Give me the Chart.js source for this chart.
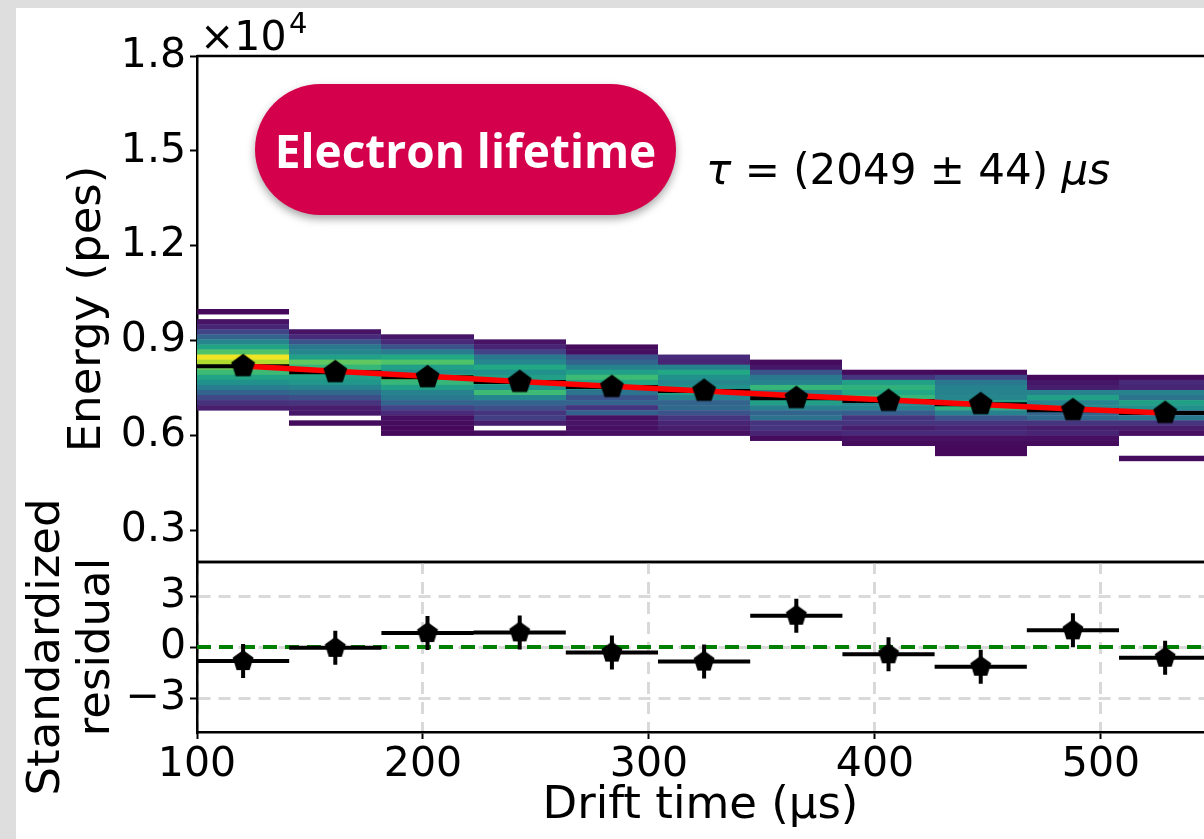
<!DOCTYPE html>
<html>
<head>
<meta charset="utf-8">
<title>Electron lifetime</title>
<script src="https://cdn.jsdelivr.net/npm/chart.js@4/dist/chart.umd.min.js"></script>
<style>
  html, body { margin: 0; padding: 0; overflow: hidden; }
  body { width: 1204px; height: 839px; position: relative; background: #dedede; }
  #panel { position: absolute; left: 16px; top: 8px; width: 1188px; height: 831px; background: #fff; overflow: hidden; }
  #energyChart { position: absolute; left: 0; top: 0; }
  #residualChart { position: absolute; left: 0; top: 472px; }
  #badge {
    position: absolute; left: 239px; top: 76px; width: 421px; height: 131px;
    border-radius: 66px; background: #d4004c; box-shadow: 0 4px 8px rgba(0,0,0,0.35);
    color: #fff; font: 700 46px "Open Sans", sans-serif;
    display: flex; align-items: center; justify-content: center;
  }
</style>
</head>
<body>
<div id="panel">
  <canvas id="energyChart" width="1188" height="586"></canvas>
  <canvas id="residualChart" width="1188" height="359"></canvas>
  <div id="badge">Electron lifetime</div>
</div>
<script>
// drift time bins (us)
const binEdges = [100, 140.8, 181.6, 222.4, 263.2, 304, 344.8, 385.6, 426.4, 467.2, 508, 548.8];
const driftTime = [120.4, 161.2, 202, 242.8, 283.6, 324.4, 365.2, 406, 446.8, 487.6, 528.4];
// profile means and fitted curve (pes)
const energyMean = [8190, 8000, 7840, 7690, 7530, 7410, 7180, 7090, 6990, 6800, 6710];
const energyFit = [8200, 8030, 7870, 7710, 7560, 7410, 7260, 7120, 6980, 6840, 6710];
// standardized residuals
const residual = [-0.83, -0.05, 0.82, 0.86, -0.33, -0.86, 1.84, -0.43, -1.16, 0.98, -0.63];
const residualErr = [1, 1, 1, 1, 1, 1, 1, 1, 1, 1, 1];
// ticks
const timeTicks = [100, 200, 300, 400, 500];
const energyTicks = [3000, 6000, 9000, 12000, 15000, 18000];
const residualTicks = [-3, 0, 3];
// 2d histogram: energy bins of 160 pes going down from 10000,
// histStart = first bin index of each column, densities top -> bottom
const histTop = 10000;
const histBin = 160;
const histStart = [0, 4, 5, 6, 7, 9, 10, 12, 12, 13, 13];
const histDensity = [
  [0.02, null, 0.05, 0.1, 0.2, 0.32, 0.45, 0.58, 0.72, 0.98, 0.88, 0.78, 0.68, 0.58, 0.5, 0.42, 0.32, 0.22, 0.14, 0.08],
  [0.05, 0.12, 0.26, 0.4, 0.46, 0.56, 0.75, 0.66, 0.62, 0.56, 0.52, 0.44, 0.34, 0.24, 0.15, 0.08, 0.06, null, 0.03],
  [0.06, 0.12, 0.26, 0.42, 0.6, 0.72, 0.56, 0.5, 0.74, 0.66, 0.56, 0.44, 0.4, 0.32, 0.2, 0.12, 0.04, 0.03, 0.02, 0.02],
  [0.05, 0.1, 0.2, 0.4, 0.46, 0.6, 0.5, 0.56, 0.6, 0.5, 0.68, 0.46, 0.32, 0.24, 0.15, 0.18, 0.08, null, 0.03],
  [0.03, 0.04, 0.26, 0.32, 0.44, 0.56, 0.68, 0.6, 0.5, 0.38, 0.26, 0.32, 0.15, 0.3, 0.04, 0.05, 0.04, 0.04],
  [0.12, 0.1, 0.44, 0.6, 0.5, 0.46, 0.5, 0.56, 0.44, 0.32, 0.34, 0.26, 0.15, 0.1, 0.08, 0.04],
  [0.03, 0.06, 0.26, 0.4, 0.44, 0.66, 0.46, 0.44, 0.56, 0.44, 0.32, 0.37, 0.15, 0.15, 0.1, 0.03],
  [0.03, 0.15, 0.56, 0.64, 0.6, 0.66, 0.46, 0.44, 0.3, 0.15, 0.15, 0.08, 0.12, 0.04, 0.03],
  [0.02, 0.22, 0.4, 0.44, 0.44, 0.46, 0.56, 0.64, 0.44, 0.26, 0.15, 0.1, 0.12, 0.04, 0.03, 0.02, 0.02],
  [0.02, 0.06, 0.08, 0.44, 0.56, 0.46, 0.46, 0.32, 0.34, 0.15, 0.08, 0.1, 0.04, 0.03],
  [0.03, 0.12, 0.1, 0.44, 0.38, 0.56, 0.5, 0.32, 0.4, 0.15, 0.08, 0.04, null, null, null, null, 0.03]
];

const xMin = 100, xMax = 545.6;
const FONT = 'DejaVu Sans';

const viridisStops = ['#440154', '#482475', '#414487', '#355f8d', '#2a788e', '#21918c',
                      '#22a884', '#44bf70', '#7ad151', '#bddf26', '#fde725'];
function hex(c) { return [1, 3, 5].map(i => parseInt(c.substr(i, 2), 16)); }
function viridis(t) {
  const p = Math.max(0, Math.min(1, t)) * 10;
  const i = Math.min(9, Math.floor(p)), f = p - i;
  const a = hex(viridisStops[i]), b = hex(viridisStops[i + 1]);
  return 'rgb(' + a.map((v, k) => Math.round(v + (b[k] - v) * f)).join(',') + ')';
}

function pentagon(r) {
  const s = Math.ceil(2 * r + 2);
  const c = document.createElement('canvas');
  c.width = s; c.height = s;
  const g = c.getContext('2d');
  g.beginPath();
  for (let i = 0; i < 5; i++) {
    const a = -Math.PI / 2 + i * 2 * Math.PI / 5;
    const px = s / 2 + r * Math.cos(a), py = s / 2 + r * Math.sin(a);
    if (i) g.lineTo(px, py); else g.moveTo(px, py);
  }
  g.closePath();
  g.fillStyle = '#000';
  g.fill();
  return c;
}

const hist2d = {
  id: 'hist2d',
  beforeDatasetsDraw(chart) {
    const {ctx, chartArea, scales: {x, y}} = chart;
    ctx.save();
    ctx.beginPath();
    ctx.rect(chartArea.left, chartArea.top, chartArea.width, chartArea.height);
    ctx.clip();
    histDensity.forEach((col, i) => {
      const x0 = Math.round(x.getPixelForValue(binEdges[i]));
      const x1 = Math.round(x.getPixelForValue(binEdges[i + 1]));
      col.forEach((v, j) => {
        if (v === null) return;
        const top = histTop - (histStart[i] + j) * histBin;
        const y0 = y.getPixelForValue(top), y1 = y.getPixelForValue(top - histBin);
        ctx.fillStyle = viridis(v);
        ctx.fillRect(x0, y0, x1 - x0, y1 - y0 + 0.4);
      });
    });
    ctx.restore();
  }
};

// top/bottom frame lines
function frame(lines) {
  return {
    id: 'frame',
    afterDraw(chart) {
      const {ctx, chartArea} = chart;
      ctx.save();
      ctx.strokeStyle = '#000';
      ctx.lineWidth = 2.5;
      lines.forEach(edge => {
        const yy = chartArea[edge];
        ctx.beginPath();
        ctx.moveTo(chartArea.left, yy);
        ctx.lineTo(chartArea.right, yy);
        ctx.stroke();
      });
      ctx.restore();
    }
  };
}

// offset text and fit result
const labels = {
  id: 'labels',
  afterDraw(chart) {
    const {ctx} = chart;
    ctx.save();
    ctx.fillStyle = '#000';
    ctx.textBaseline = 'alphabetic';
    ctx.font = '41px ' + FONT;
    ctx.fillText('\u00d710', 184, 42);
    ctx.font = '29px ' + FONT;
    ctx.fillText('4', 273, 25);
    let x = 690;
    const parts = [['italic 42px ' + FONT, '\u03c4'], ['42px ' + FONT, ' = (2049 \u00b1 44) '], ['italic 42px ' + FONT, '\u03bcs']];
    parts.forEach(p => {
      ctx.font = p[0];
      ctx.fillText(p[1], x, 176);
      x += ctx.measureText(p[1]).width;
    });
    ctx.restore();
  }
};

const tickFont = {family: FONT, size: 41};
const titleFont = {family: FONT, size: 45};

const profileBars = [];
driftTime.forEach((t, i) => {
  profileBars.push({x: binEdges[i], y: energyMean[i]}, {x: binEdges[i + 1], y: energyMean[i]}, {x: t, y: null});
});

const residualBars = [];
driftTime.forEach((t, i) => {
  residualBars.push({x: binEdges[i], y: residual[i]}, {x: binEdges[i + 1], y: residual[i]}, {x: t, y: null});
  residualBars.push({x: t, y: residual[i] - residualErr[i]}, {x: t, y: residual[i] + residualErr[i]}, {x: t, y: null});
});

new Chart(document.getElementById('energyChart'), {
  type: 'line',
  data: {
    datasets: [
      {
        data: driftTime.map((t, i) => ({x: t, y: energyMean[i]})),
        showLine: false, pointStyle: pentagon(12.5), pointRadius: 10, order: 1
      },
      {
        data: driftTime.map((t, i) => ({x: t, y: energyFit[i]})),
        borderColor: '#ff0000', borderWidth: 5.5, pointRadius: 0, order: 2
      },
      {
        data: profileBars,
        borderColor: '#000', borderWidth: 4, pointRadius: 0, spanGaps: false, order: 3
      }
    ]
  },
  options: {
    responsive: false, animation: false, devicePixelRatio: 1,
    layout: {autoPadding: false, padding: {top: 48, bottom: 32, left: 0, right: 0}},
    plugins: {legend: {display: false}, tooltip: {enabled: false}},
    scales: {
      x: {type: 'linear', min: xMin, max: xMax, display: false},
      y: {
        type: 'linear', min: 2000, max: 18000,
        afterBuildTicks: s => { s.ticks = energyTicks.map(v => ({value: v})); },
        afterFit: s => { s.width = 181; },
        ticks: {callback: v => (v / 10000).toFixed(1), font: tickFont, color: '#000', padding: 4},
        grid: {drawOnChartArea: false, tickLength: 7, tickWidth: 2, tickColor: '#000'},
        border: {display: true, color: '#000', width: 2.5},
        title: {display: true, text: 'Energy (pes)', font: titleFont, color: '#000', padding: {top: 45}}
      }
    }
  },
  plugins: [hist2d, frame(['top', 'bottom']), labels]
});

new Chart(document.getElementById('residualChart'), {
  type: 'line',
  data: {
    datasets: [
      {
        data: driftTime.map((t, i) => ({x: t, y: residual[i]})),
        showLine: false, pointStyle: pentagon(11), pointRadius: 10, order: 1
      },
      {
        data: residualBars,
        borderColor: '#000', borderWidth: 4, pointRadius: 0, spanGaps: false, order: 2
      },
      {
        data: [{x: xMin, y: 0}, {x: xMax, y: 0}],
        borderColor: '#008000', borderWidth: 4, borderDash: [14, 8], pointRadius: 0, order: 3
      }
    ]
  },
  options: {
    responsive: false, animation: false, devicePixelRatio: 1,
    layout: {autoPadding: false, padding: {top: 82, bottom: 0, left: 0, right: 0}},
    plugins: {legend: {display: false}, tooltip: {enabled: false}},
    scales: {
      x: {
        type: 'linear', min: xMin, max: xMax,
        afterBuildTicks: s => { s.ticks = timeTicks.map(v => ({value: v})); },
        afterFit: s => { s.height = 107; },
        ticks: {font: tickFont, color: '#000', padding: 2, maxRotation: 0},
        grid: {color: '#d9d9d9', lineWidth: 3, tickLength: 7, tickWidth: 2, tickColor: '#000'},
        border: {display: true, color: '#000', width: 2.5, dash: [12, 8]},
        title: {display: true, text: 'Drift time (\u00b5s)', font: titleFont, color: '#000', padding: {bottom: 6}}
      },
      y: {
        type: 'linear', min: -5, max: 5,
        afterBuildTicks: s => { s.ticks = residualTicks.map(v => ({value: v})); },
        afterFit: s => { s.width = 181; },
        ticks: {callback: v => (v < 0 ? '\u2212' + Math.abs(v) : String(v)), font: tickFont, color: '#000', padding: 4},
        grid: {color: '#d9d9d9', lineWidth: 3, tickLength: 7, tickWidth: 2, tickColor: '#000'},
        border: {display: true, color: '#000', width: 2.5, dash: [12, 8]},
        title: {
          display: true, text: ['Standardized', 'residual'],
          font: {family: FONT, size: 45, lineHeight: 1.11}, color: '#000', padding: {top: 6}
        }
      }
    }
  },
  plugins: [frame(['top'])]
});
</script>
</body>
</html>
